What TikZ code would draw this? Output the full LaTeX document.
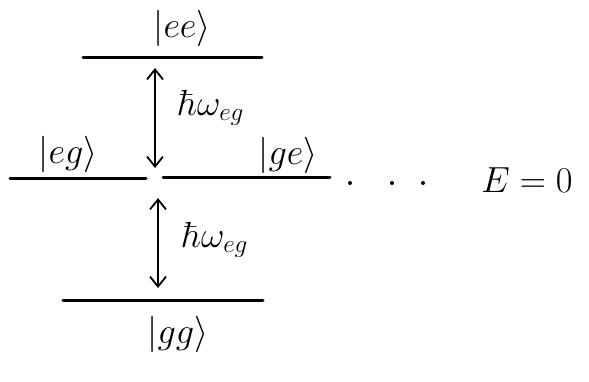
\documentclass[tikz,border=0pt]{standalone}
\usepackage{graphicx}
\usetikzlibrary{arrows.meta}
\newcommand{\biglabel}[1]{\scalebox{2.1}{\LARGE #1}}
\begin{document}
\begin{tikzpicture}[x=1pt,y=-1pt,
  level/.style={line width=3pt,line cap=round},
  gap/.style={line width=1.8pt,{Straight Barb[length=10pt,width=16pt]}-{Straight Barb[length=10pt,width=16pt]}},
  lbl/.style={inner sep=0pt},
  dotmark/.style={fill,circle,inner sep=0pt,minimum size=4pt}]
\useasboundingbox (0,0) rectangle (589,381);
% energy levels
\coordinate (eeL) at (83,57);   \coordinate (eeR) at (262,57);
\coordinate (egL) at (10,178);  \coordinate (egR) at (146,178);
\coordinate (geL) at (163,177); \coordinate (geR) at (330,177);
\coordinate (ggL) at (63,300);  \coordinate (ggR) at (263,300);
\draw[level] (eeL) -- (eeR);
\draw[level] (egL) -- (egR);
\draw[level] (geL) -- (geR);
\draw[level] (ggL) -- (ggR);
% state labels
\node[lbl] (ee) at (182,28) {\biglabel{$|ee\rangle$}};
\node[lbl] (eg) at (68,154) {\biglabel{$|eg\rangle$}};
\node[lbl] (ge) at (288,155) {\biglabel{$|ge\rangle$}};
\node[lbl] (gg) at (178,334) {\biglabel{$|gg\rangle$}};
% level spacings
\coordinate (a1t) at (155,68);  \coordinate (a1b) at (155,168);
\coordinate (a2t) at (158,198); \coordinate (a2b) at (158,288);
\draw[gap] (a1t) -- (a1b);
\draw[gap] (a2t) -- (a2b);
\node[lbl,anchor=west] (w1) at (178,108) {\biglabel{$\hbar\omega_{eg}$}};
\node[lbl,anchor=west] (w2) at (182,240) {\biglabel{$\hbar\omega_{eg}$}};
% dots and zero of energy
\node[dotmark] (d1) at (350,183) {};
\node[dotmark] (d2) at (392,183) {};
\node[dotmark] (d3) at (423,183) {};
\node[lbl] (E0) at (527,180) {\biglabel{$E=0$}};
\end{tikzpicture}
\end{document}
